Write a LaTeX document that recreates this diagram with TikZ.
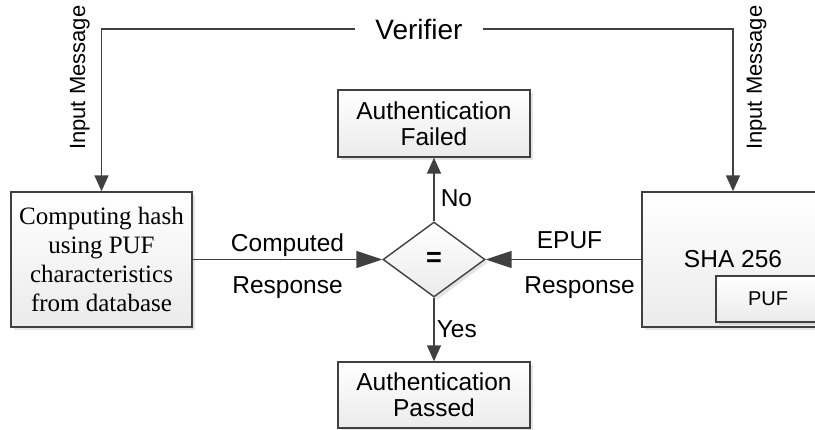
\documentclass[tikz,border=0pt]{standalone}
\usepackage{fontspec}
\setmainfont{Liberation Sans}
\newfontfamily\timesfont{Liberation Serif}
\usetikzlibrary{arrows.meta,shapes.geometric,shadows,positioning}

\definecolor{linegray}{HTML}{404040}

\tikzset{
  box/.style={draw=linegray, line width=1.4pt, top color=white, bottom color=black!8,
              drop shadow={shadow xshift=3pt, shadow yshift=-3pt, fill=black!35, opacity=.3},
              align=center, inner sep=0pt},
  flow/.style={draw=linegray, line width=1.6pt, -{Triangle[length=16pt,width=14pt]}},
  hflow/.style={flow, -{Triangle[length=26pt,width=17pt]}},
  lbl/.style={inner sep=0pt, font=\fontsize{24.5}{26}\selectfont},
  inmsg/.style={rotate=90, inner sep=11pt, font=\fontsize{22}{24}\selectfont},
}

\begin{document}
\begin{tikzpicture}[x=1pt,y=1pt,font=\fontsize{24.5}{26}\selectfont]
\useasboundingbox (0,0) rectangle (815,429);

% Left and right blocks
\node[box, minimum width=181pt, minimum height=135pt,
      font=\timesfont\fontsize{25}{29}\selectfont] (hash) at (101.5,169.5)
      {Computing hash\\using PUF\\characteristics\\from database};
\node[box, minimum width=182pt, minimum height=135pt] (sha) at (733,169.5) {SHA 256};
\node[box, minimum width=104pt, minimum height=46pt,
      font=\fontsize{20}{22}\selectfont] (puf) at (768,130) {PUF};

% Comparison and results
\node[box, diamond, minimum width=102pt, minimum height=75pt,
      font=\fontsize{27}{29}\selectfont\bfseries] (cmp) at (434,169.5) {=};
\node[box, minimum width=192pt, minimum height=67pt] (failed) at (434,305.5) {Authentication\\Failed};
\node[box, minimum width=192pt, minimum height=66pt] (passed) at (434,34) {Authentication\\Passed};

% Verifier on top
\node[inner xsep=20pt, inner ysep=0pt, font=\fontsize{28}{30}\selectfont] (verifier) at (419,400) {Verifier};

\draw[flow] (verifier.west) -| node[pos=0.65, inmsg, anchor=south] (inleft) {Input Message} (hash.north);
\draw[flow] (verifier.east) -| node[pos=0.65, inmsg, anchor=north, inner sep=13pt] (inright) {Input Message} (sha.north);

\draw[hflow] (hash.east) -- node[lbl, above=2.5pt] (computed) {Computed}
                            node[lbl, below=16pt] (resleft) {Response} (cmp.west);
\draw[hflow] (sha.west) -- node[lbl, above=10pt, xshift=6pt] (epuf) {EPUF}
                           node[lbl, below=16pt, xshift=16pt] (resright) {Response} (cmp.east);

\draw[flow] (cmp.north) -- node[lbl, pos=0.37, right=6pt] (no) {No} (failed.south);
\draw[flow] (cmp.south) -- node[lbl, right=2pt] (yes) {Yes} (passed.north);

\end{tikzpicture}
\end{document}
